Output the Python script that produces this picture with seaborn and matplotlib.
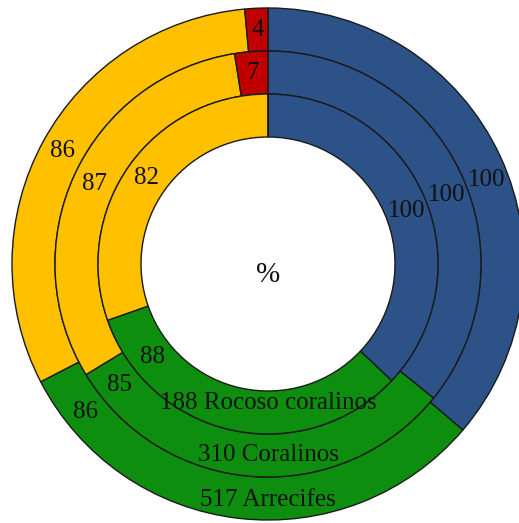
import numpy as np
import matplotlib
matplotlib.use("Agg")
import matplotlib.pyplot as plt
import seaborn as sns

# --- Daten ---
anillos = ["517 Arrecifes", "310 Coralinos", "188 Rocoso coralinos"]
azul = [100, 100, 100]
verde = [86, 85, 88]
amarillo = [86, 87, 82]
rojo = [4, 7, 0]

colores = ["#2C5288", "#0E8E0E", "#FFC000", "#C00000"]

sns.set_style("white")
plt.rcParams['font.family'] = ['Liberation Serif', 'DejaVu Serif']

fig = plt.figure(figsize=(5.19, 5.23), dpi=100)
ax = fig.add_axes([0, 0, 1, 1])

radios = [256, 213, 170]
ancho = 43
texto_r = [236, 191, 139]
# feste Winkel (im Uhrzeigersinn ab oben) fuer blau und gruen
ang_fijo = {0: 69, 1: 231}

for i, nombre in enumerate(anillos):
    vals = [azul[i], verde[i], amarillo[i], rojo[i]]
    ax.pie(vals, radius=radios[i], colors=colores, startangle=90, counterclock=False,
           wedgeprops=dict(width=ancho, edgecolor="#1a1a1a", linewidth=1))
    total = sum(vals)
    r_mid = radios[i] - ancho / 2
    inicio = 0
    for j, v in enumerate(vals):
        fin = inicio + v / total * 360
        if v > 0:
            ang = ang_fijo.get(j, (inicio + fin) / 2)
            t = np.deg2rad(ang)
            ax.text(r_mid * np.sin(t), r_mid * np.cos(t), str(v), ha="center", va="center",
                    fontsize=18, color="#111111")
        inicio = fin
    ax.text(0, -texto_r[i], nombre, ha="center", va="center", fontsize=18, color="#111111")

ax.text(0, -11, "%", ha="center", va="center", fontsize=21, color="#111111")

ax.set_xlim(-268, 251)
ax.set_ylim(-259, 264)
ax.set_aspect("equal")
ax.axis("off")

fig.savefig("out.png", dpi=100)
